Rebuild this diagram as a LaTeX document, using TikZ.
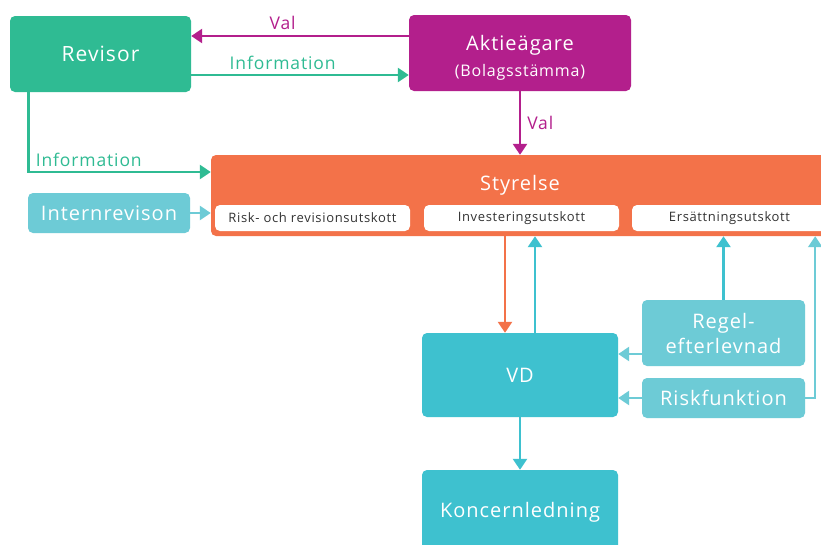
\documentclass[tikz,border=0pt]{standalone}
\usepackage{fontspec}
\setmainfont{Open Sans}[LetterSpace=5]
\usetikzlibrary{arrows.meta,calc}
\definecolor{cgreen}{HTML}{2FBB93}
\definecolor{cmag}{HTML}{B31F8C}
\definecolor{corange}{HTML}{F37249}
\definecolor{cteal}{HTML}{3EC1CF}
\definecolor{clight}{HTML}{6DCBD6}
\definecolor{ctext}{HTML}{333333}
\begin{document}
\begin{tikzpicture}[x=1pt,y=-1pt,
  box/.style={rounded corners=5pt, inner sep=0pt, text=white, align=center, font=\fontsize{20}{25}\selectfont},
  sub/.style={rounded corners=5pt, fill=white, inner sep=0pt, text=ctext, minimum height=26pt, minimum width=195pt, font=\fontsize{13}{15}\selectfont},
  conn/.style={line width=2.5pt, -{Triangle[width=14pt,length=11pt]}},
  lbl/.style={font=\fontsize{17.5}{20}\selectfont, inner sep=0pt}]
\clip (0,0) rectangle (821,544);
\fill[white] (0,0) rectangle (821,544);
\node[box, fill=cgreen, minimum width=181pt, minimum height=76pt, font=\fontsize{21}{25}\selectfont] (rev) at (100.5,54) {Revisor};
\node[box, fill=cmag, minimum width=222pt, minimum height=76pt] (akt) at (520,53) {\rule{0pt}{8pt}\\[-8pt]Aktieägare\\[1pt]{\fontsize{16}{18}\selectfont(Bolagsstämma)}};
\node[box, fill=corange, minimum width=689pt, minimum height=81pt] (sty) at (555.5,195.5) {};
\node[box, inner sep=0pt] (styt) at (520,185) {Styrelse};
\node[sub] (risk) at (312.5,218) {Risk- och revisionsutskott};
\node[sub] (inv) at (521.5,218) {Investeringsutskott};
\node[sub] (ers) at (729.5,218) {Ersättningsutskott};
\node[box, fill=clight, minimum width=162pt, minimum height=40pt] (intr) at (109,213) {Internrevison};
\node[box, fill=cteal, minimum width=196pt, minimum height=84pt] (vd) at (520,375) {VD};
\node[box, fill=clight, minimum width=163pt, minimum height=66pt] (regel) at (723.5,333) {Regel-\\efterlevnad};
\node[box, fill=clight, minimum width=163pt, minimum height=40pt] (riskf) at (723.5,398) {Riskfunktion};
\node[box, fill=cteal, minimum width=196pt, minimum height=84pt] (konc) at (520,512) {Koncernledning};
% connectors
\draw[conn, cmag] ([yshift=17pt]akt.west) -- ([yshift=17pt]akt.west -| rev.east) node[lbl, pos=0.58, above=5pt, text=cmag] {Val};
\draw[conn, cgreen] ([yshift=-21pt]rev.east) -- ([yshift=-21pt]rev.east -| akt.west) node[lbl, pos=0.42, above=4pt, text=cgreen] {Information};
\draw[conn, cmag] (akt.south) -- (akt.south |- sty.north) node[lbl, midway, right=6pt, text=cmag] {Val};
\draw[conn, cgreen] ([xshift=-72pt]rev.south) |- ([yshift=23.5pt]sty.west) node[lbl, pos=0.5, anchor=south west, xshift=6pt, yshift=4pt, text=cgreen] {Information};
\draw[conn, clight] (intr.east) -- (intr.east -| sty.west);
\draw[conn, corange] ([xshift=-15pt]vd.north |- sty.south) -- ([xshift=-15pt]vd.north);
\draw[conn, cteal] ([xshift=15pt]vd.north) -- ([xshift=15pt]vd.north |- sty.south);
\draw[conn, cteal] (regel.north) -- (regel.north |- sty.south);
\draw[conn, clight] ([yshift=-21pt]regel.west) -- ([yshift=-21pt]regel.west -| vd.east);
\draw[conn, clight] (riskf.west) -- (riskf.west -| vd.east);
\draw[conn, clight] (riskf.east) -| ($(riskf.east |- sty.south)+(10,0)$);
\draw[conn, cteal] (vd.south) -- (konc.north);
\end{tikzpicture}
\end{document}
